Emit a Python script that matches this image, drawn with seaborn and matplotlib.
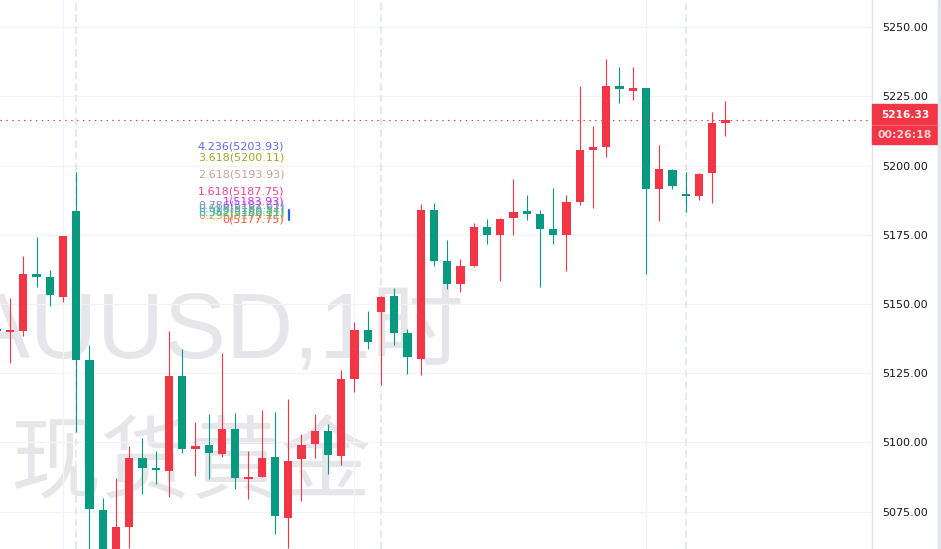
import numpy as np
import matplotlib
matplotlib.use("Agg")
import matplotlib.pyplot as plt
import seaborn as sns

# hourly candles, spot gold (index = bar number)
opens = [5141.0, 5140.0, 5140.2, 5160.8, 5159.7, 5152.5, 5183.6, 5129.8, 5075.6, 5055.0,
         5069.5, 5094.4, 5090.8, 5089.7, 5124.0, 5097.7, 5099.1, 5095.8, 5104.9, 5087.0,
         5087.5, 5094.8, 5072.7, 5094.0, 5099.5, 5104.2, 5095.1, 5122.9, 5140.6, 5147.1,
         5152.9, 5139.5, 5130.1, 5183.9, 5165.5, 5157.2, 5163.7, 5177.8, 5174.9, 5181.0,
         5183.6, 5182.5, 5177.1, 5174.9, 5186.8, 5205.6, 5206.7, 5228.7, 5227.3, 5228.0,
         5191.5, 5198.4, 5189.7, 5189.0, 5197.3, 5215.3]
highs = [5143.0, 5152.2, 5167.3, 5174.2, 5162.3, 5174.5, 5197.7, 5135.2, 5080.0, 5087.2,
         5098.7, 5101.6, 5096.9, 5140.3, 5133.8, 5107.4, 5110.3, 5132.3, 5110.6, 5096.9,
         5111.7, 5111.0, 5115.7, 5103.1, 5110.3, 5106.7, 5126.2, 5143.5, 5147.5, 5152.9,
         5155.8, 5141.0, 5186.1, 5186.5, 5173.1, 5166.2, 5179.2, 5180.7, 5181.0, 5195.1,
         5189.4, 5183.9, 5191.9, 5189.4, 5228.7, 5214.3, 5238.4, 5235.6, 5235.6, 5228.0,
         5207.4, 5198.7, 5197.7, 5197.3, 5219.3, 5223.3]
lows = [5137.0, 5128.7, 5138.4, 5156.1, 5149.3, 5150.7, 5103.8, 5050.0, 5050.0, 5050.0,
        5061.9, 5081.4, 5085.0, 5080.3, 5096.2, 5087.9, 5086.8, 5094.8, 5083.2, 5079.6,
        5087.5, 5067.0, 5061.9, 5078.9, 5094.4, 5088.6, 5091.9, 5118.2, 5133.8, 5120.8,
        5135.2, 5124.7, 5124.4, 5163.7, 5155.4, 5154.3, 5163.4, 5171.7, 5158.3, 5174.9,
        5180.3, 5156.1, 5171.7, 5161.9, 5185.7, 5184.7, 5203.1, 5222.6, 5223.6, 5160.8,
        5180.0, 5191.5, 5183.2, 5187.5, 5186.5, 5210.6]
closes = [5140.2, 5140.5, 5160.8, 5159.7, 5153.2, 5174.5, 5129.8, 5076.0, 5058.0, 5069.5,
          5094.4, 5090.8, 5090.1, 5124.0, 5097.7, 5098.7, 5096.2, 5104.9, 5087.2, 5087.4,
          5094.4, 5073.5, 5093.3, 5099.1, 5104.2, 5095.5, 5122.9, 5140.6, 5136.3, 5152.5,
          5139.5, 5130.9, 5183.9, 5165.5, 5157.2, 5163.7, 5177.8, 5174.9, 5180.7, 5183.2,
          5182.5, 5177.1, 5174.9, 5186.8, 5205.6, 5206.7, 5228.7, 5227.6, 5227.6, 5191.5,
          5198.7, 5192.6, 5189.0, 5196.9, 5215.3, 5216.33]

last_price = 5216.33
countdown = "00:26:18"
price_ticks = [5075, 5100, 5125, 5150, 5175, 5200, 5225, 5250]
grid_bars = [5, 27, 49]        # light vertical grid
session_bars = [6, 29, 52]     # dashed session breaks

fib_levels = [0, 0.236, 0.382, 0.5, 0.618, 0.786, 1, 1.618, 2.618, 3.618, 4.236]
fib_prices = [5177.75, 5179.21, 5180.11, 5180.84, 5181.57, 5182.61, 5183.93,
              5187.75, 5193.93, 5200.11, 5203.93]
fib_colors = ['#f0524f', '#f59a23', '#26b5d8', '#7cc242', '#3fb8a8', '#8f88ea',
              '#d62ee8', '#e8468f', '#c9a29a', '#a6a62a', '#5b6cf0']

UP = '#f23645'
DOWN = '#089981'

sns.set_theme(style="white")
plt.rcParams['font.family'] = ['DejaVu Sans', 'Noto Sans CJK SC']

W, H = 941, 549
fig = plt.figure(figsize=(W / 100, H / 100), dpi=100)
fig.patch.set_facecolor('white')
ax = fig.add_axes([0, 0, 872 / W, 1])
ax.set_facecolor('white')

x = np.arange(len(opens))
o = np.array(opens)
c = np.array(closes)
colors = [UP if cc >= oo else DOWN for oo, cc in zip(o, c)]
bottom = np.minimum(o, c)
height = np.abs(c - o)
small = height < 1.0
bottom[small] = (o[small] + c[small]) / 2 - 0.5
height[small] = 1.0

# watermark
wm = '#e6e6ea'
ax.text(465 / 872, 1 - 358 / H, 'XAUUSD,1时', transform=ax.transAxes, ha='right',
        va='baseline', fontsize=67, color=wm, family=['Liberation Sans', 'Noto Sans CJK SC'],
        zorder=0)
ax.text(10 / 872, 1 - 466 / H, '现货黄金', transform=ax.transAxes, ha='left',
        va='center', fontsize=65, color=wm, family=['Noto Sans CJK SC'], zorder=0)

# grid
for p in price_ticks:
    ax.axhline(p, color='#f0f3fa', lw=0.9, zorder=0.5)
for b in grid_bars:
    ax.axvline(b, color='#f0f3fa', lw=0.9, zorder=0.5)
for b in session_bars:
    ax.axvline(b, color='#e6e9f0', lw=1.5, linestyle=(0, (3.5, 2)), zorder=0.5)

ax.vlines(x, lows, highs, colors=colors, lw=0.8, zorder=2)
ax.bar(x, height, bottom=bottom, width=0.62, color=colors, linewidth=0, zorder=3)

ax.axhline(last_price, color=UP, lw=0.8, linestyle=(0, (1.3, 4)), zorder=4)

# fib labels
for lvl, pr, col in zip(fib_levels, fib_prices, fib_colors):
    ax.text(21.7, pr + 2.9, f'{lvl:g}({pr:.2f})', ha='right', va='center',
            fontsize=8, color=col, zorder=5)
ax.plot([22.05, 22.05], [5180.3, 5183.9], color='#2962ff', lw=1.6, zorder=5)

ax.set_xlim(0.245, 66.06)
ax.set_ylim(5061.55, 5259.75)
ax.set_xticks([])
ax.yaxis.tick_right()
ax.set_yticks(price_ticks)
ax.set_yticklabels([f'{p:.2f}' for p in price_ticks])
ax.tick_params(axis='y', length=0, pad=7, labelsize=8, labelcolor='#131722')
for s in ['top', 'left', 'bottom']:
    ax.spines[s].set_visible(False)
ax.spines['right'].set_color('#e0e3eb')
ax.spines['right'].set_linewidth(0.9)

# last price badge
fig.patches.append(plt.Rectangle((872 / W, 1 - 144 / H), 66 / W, 40 / H,
                                 transform=fig.transFigure, color=UP, zorder=5))
fig.lines.append(plt.Line2D([872 / W, 938 / W], [1 - 124.5 / H] * 2,
                            transform=fig.transFigure, color='#f5717c', lw=0.6, zorder=6))
fig.text(905 / W, 1 - 114.5 / H, f'{last_price:.2f}', ha='center', va='center',
         fontsize=7.6, weight='bold', color='white', zorder=7)
fig.text(905 / W, 1 - 134.5 / H, countdown, ha='center', va='center',
         fontsize=7.8, weight='bold', color='#fcd3d7', zorder=7)
fig.patches.append(plt.Rectangle((938 / W, 0), 3 / W, 1, transform=fig.transFigure,
                                 color='#e0e3eb', zorder=5))

fig.savefig('out.png', dpi=100)
